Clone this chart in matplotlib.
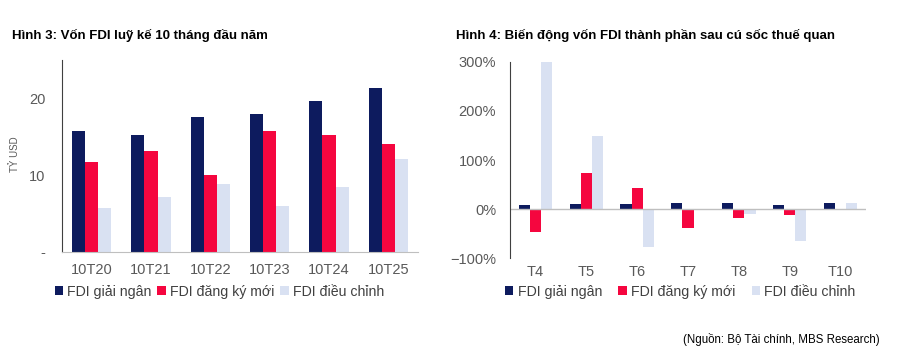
import numpy as np
import matplotlib.pyplot as plt
from matplotlib.ticker import FuncFormatter, PercentFormatter

plt.rcParams['font.family'] = ['Liberation Sans', 'DejaVu Sans']

# Hình 3 - tỷ USD
years = ["10T20", "10T21", "10T22", "10T23", "10T24", "10T25"]
giai_ngan = [15.8, 15.2, 17.6, 18.0, 19.6, 21.3]
dang_ky_moi = [11.7, 13.1, 10.0, 15.7, 15.2, 14.1]
dieu_chinh = [5.75, 7.1, 8.8, 6.0, 8.4, 12.1]

# Hình 4 - %
months = ["T4", "T5", "T6", "T7", "T8", "T9", "T10"]
gn_pct = [9, 10, 9.5, 11.5, 13.5, 7.5, 12]
dk_pct = [-45.5, 73, 43.5, -39, -18, -11.5, 0]
dc_pct = [300, 149, -76, 1, -10, -64, 13]

series_names = ["FDI giải ngân", "FDI đăng ký mới", "FDI điều chỉnh"]
colors = ["#0d1b5e", "#f5063f", "#d9e1f2"]
grey = "#595959"

fig = plt.figure(figsize=(8.98, 3.57), dpi=100)
ax1 = fig.add_axes([62/898, 1-252/357, 356/898, 192/357])
ax2 = fig.add_axes([510/898, 1-258.3/357, 356/898, 196.6/357])

w = 0.22
x = np.arange(len(years))
for i, (vals, name) in enumerate(zip([giai_ngan, dang_ky_moi, dieu_chinh], series_names)):
    ax1.bar(x + (i - 1) * w, vals, w, color=colors[i], label=name)
ax1.set_ylim(0, 25)
ax1.set_xlim(-0.5, len(years) - 0.5)
ax1.set_yticks([0, 10, 20])
ax1.yaxis.set_major_formatter(FuncFormatter(lambda v, p: "-" if v == 0 else f"{v:.0f}"))
ax1.set_xticks(x)
ax1.set_xticklabels(years)
ax1.set_ylabel("TỶ USD", fontsize=7, color=grey)
ax1.yaxis.set_label_coords((20 - 62) / 356, 0.51)

x2 = np.arange(len(months))
for i, (vals, name) in enumerate(zip([gn_pct, dk_pct, dc_pct], series_names)):
    ax2.bar(x2 + (i - 1) * w, vals, w, color=colors[i], label=name)
ax2.set_ylim(-100, 300)
ax2.set_xlim(-0.5, len(months) - 0.5)
ax2.set_yticks([-100, 0, 100, 200, 300])
ax2.yaxis.set_major_formatter(PercentFormatter(decimals=0))
ax2.set_xticks(x2)
ax2.set_xticklabels(months)
ax2.axhline(0, color="#bfbfbf", lw=1)

for ax in (ax1, ax2):
    for s in ("top", "right"):
        ax.spines[s].set_visible(False)
    ax.spines["left"].set_color("#404040")
    ax.spines["bottom"].set_color("#bfbfbf")
    ax.tick_params(length=0, colors=grey, labelsize=10.5, pad=8)
ax1.tick_params(axis="y", pad=12)
ax2.tick_params(axis="y", pad=10)
ax2.spines["bottom"].set_visible(False)
ax2.tick_params(axis="x", pad=5)

leg_kw = dict(loc="upper center", ncol=3, frameon=False, fontsize=10.2,
              handlelength=0.6, handleheight=0.6, handletextpad=0.3,
              labelcolor="#404040")
ax1.legend(bbox_to_anchor=(0.442, -0.105), columnspacing=0.4, **leg_kw)
ax2.legend(bbox_to_anchor=(0.478, -0.07), columnspacing=1.15, **leg_kw)

fig.text(12/898, 1-35/357, "Hình 3: Vốn FDI luỹ kế 10 tháng đầu năm",
         fontsize=9.5, fontweight="bold", va="center")
fig.text(456/898, 1-35/357, "Hình 4: Biến động vốn FDI thành phần sau cú sốc thuế quan",
         fontsize=9.5, fontweight="bold", va="center")
fig.text(880/898, 1-340/357, "(Nguồn: Bộ Tài chính, MBS Research)",
         fontsize=8.3, ha="right", va="center")

fig.savefig("out.png", dpi=100)
